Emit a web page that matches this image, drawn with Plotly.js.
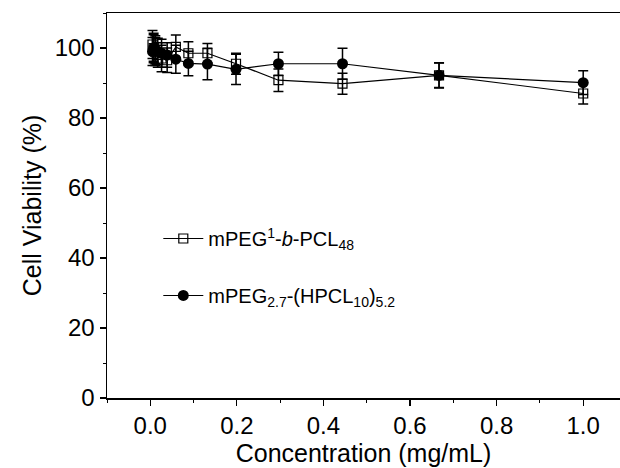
<!DOCTYPE html>
<html>
<head>
<meta charset="utf-8">
<script src="https://cdn.plot.ly/plotly-3.0.1.min.js"></script>
<style>body{margin:0;padding:0;background:#fff}#chart{width:620px;height:468px}</style>
</head>
<body>
<div id="chart"></div>
<script>
const concentrations = [1.0, 0.667, 0.444, 0.296, 0.198, 0.132, 0.088, 0.059, 0.039, 0.026, 0.0173, 0.0116, 0.0077, 0.0051];
const viabilityLinear = [87.0, 92.2, 89.8, 90.8, 95.5, 98.5, 98.5, 100.3, 96.5, 97.0, 98.0, 99.0, 100.0, 101.0];
const errLinear = [3.0, 3.5, 3.0, 3.2, 3.0, 2.8, 3.3, 3.4, 3.5, 3.8, 3.5, 4.0, 3.8, 4.0];
const viabilityStar = [90.1, 92.2, 95.5, 95.5, 93.9, 95.4, 95.6, 96.8, 98.0, 98.5, 99.0, 99.5, 100.0, 99.0];
const errStar = [3.4, 3.6, 4.4, 3.3, 4.3, 4.5, 3.5, 4.0, 3.5, 4.0, 3.8, 4.0, 4.2, 4.0];
const nameLinear = 'mPEG<sup>1</sup>-<i>b</i>-PCL<sub>48</sub>';
const nameStar = 'mPEG<sub>2.7</sub>-(HPCL<sub>10</sub>)<sub>5.2</sub>';

const fam = 'Liberation Sans, Arial, sans-serif';
function f(size) { return {family: fam, size: size, color: '#000'}; }

const traces = [
  {
    x: concentrations, y: viabilityLinear, name: nameLinear, legendgroup: 'a',
    mode: 'lines+markers', type: 'scatter',
    line: {color: '#000', width: 1.2},
    marker: {symbol: 'square-open', size: 9, color: '#000', line: {width: 1.2}},
    error_y: {type: 'data', array: errLinear, visible: true, color: '#000', thickness: 1.5, width: 5}
  },
  {
    x: concentrations, y: viabilityStar, name: nameStar, legendgroup: 'b',
    mode: 'lines+markers', type: 'scatter',
    line: {color: '#000', width: 1.2},
    marker: {symbol: 'circle', size: 11, color: '#000'},
    error_y: {type: 'data', array: errStar, visible: true, color: '#000', thickness: 1.5, width: 5}
  }
];

const layout = {
  width: 620, height: 468,
  margin: {l: 107, r: 0, t: 13, b: 70},
  paper_bgcolor: '#fff', plot_bgcolor: '#fff',
  showlegend: true,
  legend: {
    x: 0.1, y: 0.465, xanchor: 'left', yanchor: 'top',
    bgcolor: 'rgba(0,0,0,0)', font: f(20),
    traceorder: 'grouped', tracegroupgap: 28, itemwidth: 40
  },
  xaxis: {
    range: [-0.1, 1.085],
    tickvals: [0, 0.2, 0.4, 0.6, 0.8, 1.0],
    ticktext: ['0.0', '0.2', '0.4', '0.6', '0.8', '1.0'],
    ticks: 'outside', ticklen: 6, tickwidth: 1.2, tickcolor: '#000',
    minor: {dtick: 0.1, tick0: 0, ticks: 'outside', ticklen: 3, tickcolor: '#000', tickwidth: 1},
    showline: true, linecolor: '#000', linewidth: 1.5, mirror: true,
    showgrid: false, zeroline: false,
    tickfont: f(24),
    title: {text: 'Concentration (mg/mL)', font: f(25), standoff: 0}
  },
  yaxis: {
    range: [0, 110],
    tickvals: [0, 20, 40, 60, 80, 100],
    ticks: 'outside', ticklen: 6, tickwidth: 1.2, tickcolor: '#000',
    minor: {dtick: 10, tick0: 0, ticks: 'outside', ticklen: 3, tickcolor: '#000', tickwidth: 1},
    showline: true, linecolor: '#000', linewidth: 1.5, mirror: false,
    showgrid: false, zeroline: false,
    tickfont: f(24),
    title: {text: 'Cell Viability (%)', font: f(25), standoff: 6}
  }
};

Plotly.newPlot('chart', traces, layout, {displayModeBar: false, staticPlot: true});
</script>
</body>
</html>
